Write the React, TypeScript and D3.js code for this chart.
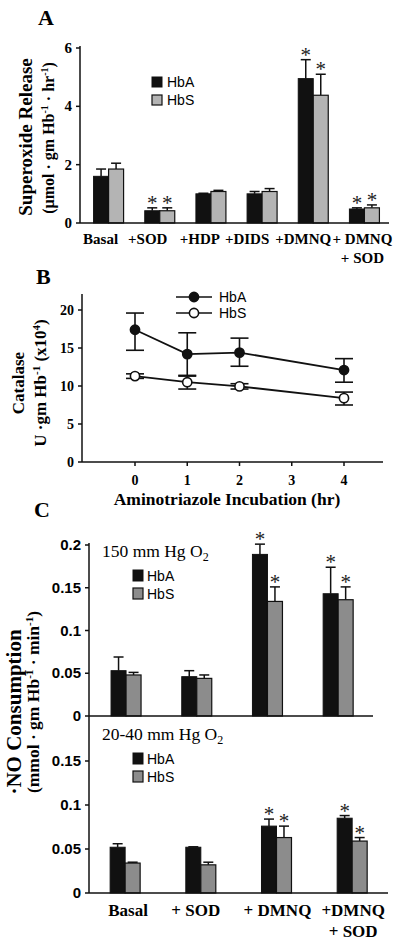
import React from "react";
import * as d3 from "d3";

// ---------- Panel A data ----------
const catsA = ["Basal", "+SOD", "+HDP", "+DIDS", "+DMNQ", "+ DMNQ|+ SOD"];
const hbaA = [1.6, 0.42, 1.0, 1.0, 4.95, 0.48];
const hbaAErr = [1.85, 0.52, 1.02, 1.08, 5.6, 0.52];
const hbsA = [1.85, 0.42, 1.08, 1.08, 4.38, 0.52];
const hbsAErr = [2.05, 0.52, 1.12, 1.18, 5.1, 0.62];
const starA = [false, true, false, false, true, true];
const ticksA = [0, 2, 4, 6];

// ---------- Panel B data ----------
const hoursB = [0, 1, 2, 4];
const hbaB = [17.4, 14.2, 14.4, 12.1];
const hbaBLo = [14.7, 11.4, 12.6, 10.5];
const hbaBHi = [19.6, 17.0, 16.3, 13.6];
const hbsB = [11.3, 10.5, 9.95, 8.4];
const hbsBLo = [11.0, 9.6, 9.6, 7.5];
const hbsBHi = [11.6, 11.3, 10.3, 9.2];
const ticksBx = [0, 1, 2, 3, 4];
const ticksBy = [0, 5, 10, 15, 20];

// ---------- Panel C data ----------
const catsC = ["Basal", "+ SOD", "+ DMNQ", "+DMNQ|+ SOD"];
const hbaC150 = [0.053, 0.046, 0.189, 0.143];
const hbaC150Err = [0.069, 0.053, 0.201, 0.174];
const hbsC150 = [0.048, 0.044, 0.134, 0.136];
const hbsC150Err = [0.051, 0.048, 0.151, 0.151];
const hbaC40 = [0.052, 0.052, 0.076, 0.085];
const hbaC40Err = [0.056, 0.0525, 0.084, 0.088];
const hbsC40 = [0.034, 0.032, 0.063, 0.059];
const hbsC40Err = [0.035, 0.035, 0.076, 0.063];
const starC = [false, false, true, true];
const ticksC1 = [0, 0.05, 0.1, 0.15, 0.2];
const ticksC2 = [0, 0.05, 0.1, 0.15];

const SERIF = "'Liberation Serif', 'Times New Roman', serif";
const SANS = "'Liberation Sans', Arial, sans-serif";
const BLACK = "#111";
const GRAY_A = "#b4b4b4";
const GRAY_C = "#8c8c8c";

function ErrBar({ x, y0, y1, cap, sw = 1.5 }: any) {
  return (
    <g stroke={BLACK} strokeWidth={sw}>
      <line x1={x} x2={x} y1={y0} y2={y1} />
      <line x1={x - cap / 2} x2={x + cap / 2} y1={y1} y2={y1} />
    </g>
  );
}

function Star({ x, y, size = 21 }: any) {
  return (
    <text x={x} y={y + 2} textAnchor="middle" fontFamily={SERIF} fontSize={size} style={{ fill: "#222" }}>
      *
    </text>
  );
}

function PanelA() {
  const y = d3.scaleLinear().domain([0, 6]).range([223, 48]);
  const x = d3.scaleBand().domain(catsA).range([83, 390]);
  const bw = 15;
  const labelOff = [-8, -12, -11, -15, -10, -2];
  return (
    <g>
      <text x={38} y={25} fontFamily={SERIF} fontWeight="bold" fontSize={22}>A</text>
      {catsA.map((c, i) => {
        const cx = (x(c) as number) + x.bandwidth() / 2;
        return (
          <g key={c}>
            <ErrBar x={cx - bw / 2} y0={y(hbaA[i])} y1={y(hbaAErr[i])} cap={10} />
            <ErrBar x={cx + bw / 2} y0={y(hbsA[i])} y1={y(hbsAErr[i])} cap={10} />
            <rect x={cx - bw} y={y(hbaA[i])} width={bw} height={y(0) - y(hbaA[i])} fill={BLACK} stroke={BLACK} strokeWidth={1} />
            <rect x={cx} y={y(hbsA[i])} width={bw} height={y(0) - y(hbsA[i])} fill={GRAY_A} stroke={BLACK} strokeWidth={1.2} />
            {starA[i] && <Star x={cx - bw / 2} y={y(hbaAErr[i])} />}
            {starA[i] && <Star x={cx + bw / 2} y={y(hbsAErr[i])} />}
            {c.split("|").map((t, k) => (
              <text key={k} x={cx + labelOff[i]} y={244 + k * 19} textAnchor="middle" fontFamily={SERIF} fontWeight="bold" fontSize={15}>
                {t}
              </text>
            ))}
          </g>
        );
      })}
      <line x1={80} x2={80} y1={y(0)} y2={46} stroke={BLACK} strokeWidth={1.5} />
      <line x1={80} x2={389} y1={y(0)} y2={y(0)} stroke={BLACK} strokeWidth={1.5} />
      {ticksA.map((t) => (
        <g key={t}>
          <line x1={76} x2={80} y1={y(t)} y2={y(t)} stroke={BLACK} strokeWidth={1.5} />
          <text x={72} y={y(t) + 5} textAnchor="end" fontFamily={SERIF} fontWeight="bold" fontSize={15}>{t}</text>
        </g>
      ))}
      <text transform={`translate(32,137) rotate(-90)`} textAnchor="middle" fontFamily={SERIF} fontWeight="bold" fontSize={19}>
        Superoxide Release
      </text>
      <text transform={`translate(54,138) rotate(-90)`} textAnchor="middle" fontFamily={SERIF} fontWeight="bold" fontSize={16}>
        (µmol · gm Hb<tspan dy={-6} fontSize={10}>-1</tspan><tspan dy={6}> · hr</tspan><tspan dy={-6} fontSize={10}>-1</tspan><tspan dy={6}>)</tspan>
      </text>
      <rect x={152} y={77} width={10} height={10} fill={BLACK} stroke={BLACK} />
      <rect x={152} y={95} width={10} height={10} fill={GRAY_A} stroke={BLACK} strokeWidth={1.2} />
      <text x={167} y={87} fontFamily={SANS} fontSize={14}>HbA</text>
      <text x={167} y={105} fontFamily={SANS} fontSize={14}>HbS</text>
    </g>
  );
}

function PanelB() {
  const x = d3.scaleLinear().domain([0, 4]).range([135, 344]);
  const y = d3.scaleLinear().domain([0, 20]).range([462, 310]);
  const line = d3.line<number>().x((_, i) => x(hoursB[i])).y((d) => y(d));
  return (
    <g>
      <text x={36} y={284} fontFamily={SERIF} fontWeight="bold" fontSize={22}>B</text>
      <line x1={82} x2={82} y1={y(0)} y2={294} stroke={BLACK} strokeWidth={1.5} />
      <line x1={82} x2={383} y1={y(0)} y2={y(0)} stroke={BLACK} strokeWidth={1.5} />
      {ticksBy.map((t) => (
        <g key={t}>
          <line x1={78} x2={82} y1={y(t)} y2={y(t)} stroke={BLACK} strokeWidth={1.5} />
          <text x={74} y={y(t) + 5} textAnchor="end" fontFamily={SERIF} fontWeight="bold" fontSize={14}>{t}</text>
        </g>
      ))}
      {ticksBx.map((t) => (
        <g key={t}>
          <line x1={x(t)} x2={x(t)} y1={y(0)} y2={y(0) + 4} stroke={BLACK} strokeWidth={1.5} />
          <text x={x(t)} y={485} textAnchor="middle" fontFamily={SERIF} fontWeight="bold" fontSize={14}>{t}</text>
        </g>
      ))}
      <text x={227} y={505} textAnchor="middle" fontFamily={SERIF} fontWeight="bold" fontSize={17.5}>
        Aminotriazole Incubation (hr)
      </text>
      <path d={line(hbaB) as string} fill="none" stroke={BLACK} strokeWidth={1.8} />
      <path d={line(hbsB) as string} fill="none" stroke={BLACK} strokeWidth={1.8} />
      {hoursB.map((h, i) => (
        <g key={h} stroke={BLACK} strokeWidth={1.6}>
          <line x1={x(h)} x2={x(h)} y1={y(hbaBLo[i])} y2={y(hbaBHi[i])} />
          <line x1={x(h) - 9} x2={x(h) + 9} y1={y(hbaBLo[i])} y2={y(hbaBLo[i])} />
          <line x1={x(h) - 9} x2={x(h) + 9} y1={y(hbaBHi[i])} y2={y(hbaBHi[i])} />
          <line x1={x(h)} x2={x(h)} y1={y(hbsBLo[i])} y2={y(hbsBHi[i])} />
          <line x1={x(h) - 9} x2={x(h) + 9} y1={y(hbsBLo[i])} y2={y(hbsBLo[i])} />
          <line x1={x(h) - 9} x2={x(h) + 9} y1={y(hbsBHi[i])} y2={y(hbsBHi[i])} />
          <circle cx={x(h)} cy={y(hbaB[i])} r={4.6} fill={BLACK} />
          <circle cx={x(h)} cy={y(hbsB[i])} r={4.6} fill="#fff" />
        </g>
      ))}
      <g stroke={BLACK} strokeWidth={1.6}>
        <line x1={176} x2={212} y1={297} y2={297} />
        <circle cx={194} cy={297} r={4.6} fill={BLACK} />
        <line x1={176} x2={212} y1={313} y2={313} />
        <circle cx={194} cy={313} r={4.6} fill="#fff" />
      </g>
      <text x={219} y={302} fontFamily={SANS} fontSize={14}>HbA</text>
      <text x={219} y={318} fontFamily={SANS} fontSize={14}>HbS</text>
      <text transform={`translate(24,383) rotate(-90)`} textAnchor="middle" fontFamily={SERIF} fontWeight="bold" fontSize={17}>
        Catalase
      </text>
      <text transform={`translate(46,383) rotate(-90)`} textAnchor="middle" fontFamily={SERIF} fontWeight="bold" fontSize={17}>
        U ·gm Hb<tspan dy={-6} fontSize={11}>-1</tspan><tspan dy={6}> (x10</tspan><tspan dy={-6} fontSize={11}>4</tspan><tspan dy={6}>)</tspan>
      </text>
    </g>
  );
}

function BarsC({ x, y, hba, hbaErr, hbs, hbsErr }: any) {
  const bw = 15;
  return (
    <g>
      {catsC.map((c, i) => {
        const cx = (x(c) as number) + x.bandwidth() / 2;
        return (
          <g key={c}>
            <ErrBar x={cx - bw / 2} y0={y(hba[i])} y1={y(hbaErr[i])} cap={10} />
            <ErrBar x={cx + bw / 2} y0={y(hbs[i])} y1={y(hbsErr[i])} cap={10} />
            <rect x={cx - bw} y={y(hba[i])} width={bw} height={y(0) - y(hba[i])} fill={BLACK} stroke={BLACK} strokeWidth={1} />
            <rect x={cx} y={y(hbs[i])} width={bw} height={y(0) - y(hbs[i])} fill={GRAY_C} stroke={BLACK} strokeWidth={1.2} />
            {starC[i] && <Star x={cx - bw / 2} y={y(hbaErr[i])} />}
            {starC[i] && <Star x={cx + bw / 2} y={y(hbsErr[i])} />}
          </g>
        );
      })}
    </g>
  );
}

function LegendC({ y0, title }: any) {
  return (
    <g>
      <text x={102} y={y0} fontFamily={SERIF} fontSize={17.5}>
        {title}<tspan dy={4} fontSize={12}>2</tspan>
      </text>
      <rect x={133} y={y0 + 13} width={10} height={11} fill={BLACK} stroke={BLACK} />
      <rect x={133} y={y0 + 31} width={10} height={11} fill={GRAY_C} stroke={BLACK} strokeWidth={1.2} />
      <text x={147} y={y0 + 24} fontFamily={SANS} fontSize={14}>HbA</text>
      <text x={147} y={y0 + 42} fontFamily={SANS} fontSize={14}>HbS</text>
    </g>
  );
}

function PanelC() {
  const y1 = d3.scaleLinear().domain([0, 0.2]).range([716, 545]);
  const y2 = d3.scaleLinear().domain([0, 0.2]).range([893, 717]);
  const x1 = d3.scaleBand().domain(catsC).range([90.7, 373.5]);
  const x2 = d3.scaleBand().domain(catsC).range([87.3, 390]);
  const labelOff = [3, -5, 1, 1];
  return (
    <g>
      <text x={34} y={517} fontFamily={SERIF} fontWeight="bold" fontSize={22}>C</text>
      <BarsC x={x1} y={y1} hba={hbaC150} hbaErr={hbaC150Err} hbs={hbsC150} hbsErr={hbsC150Err} />
      <BarsC x={x2} y={y2} hba={hbaC40} hbaErr={hbaC40Err} hbs={hbsC40} hbsErr={hbsC40Err} />
      <line x1={89} x2={89} y1={y2(0)} y2={543} stroke={BLACK} strokeWidth={1.5} />
      <line x1={89} x2={373} y1={y1(0)} y2={y1(0)} stroke={BLACK} strokeWidth={1.5} />
      <line x1={89} x2={388} y1={y2(0)} y2={y2(0)} stroke={BLACK} strokeWidth={1.5} />
      {ticksC1.map((t) => (
        <g key={"u" + t}>
          <line x1={85} x2={89} y1={y1(t)} y2={y1(t)} stroke={BLACK} strokeWidth={1.5} />
          <text x={81} y={y1(t) + 5} textAnchor="end" fontFamily={SANS} fontWeight="bold" fontSize={15}>{String(t)}</text>
        </g>
      ))}
      {ticksC2.map((t) => (
        <g key={"l" + t}>
          <line x1={85} x2={89} y1={y2(t)} y2={y2(t)} stroke={BLACK} strokeWidth={1.5} />
          <text x={81} y={y2(t) + 5} textAnchor="end" fontFamily={SANS} fontWeight="bold" fontSize={15}>{String(t)}</text>
        </g>
      ))}
      {catsC.map((c, i) => {
        const cx = (x2(c) as number) + x2.bandwidth() / 2 + labelOff[i];
        return c.split("|").map((t, k) => (
          <text key={c + k} x={cx} y={916 + k * 21} textAnchor="middle" fontFamily={SERIF} fontWeight="bold" fontSize={17}>
            {t}
          </text>
        ));
      })}
      <LegendC y0={557} title="150 mm Hg O" />
      <LegendC y0={740} title="20-40 mm Hg O" />
      <text transform={`translate(21,712) rotate(-90)`} textAnchor="middle" fontFamily={SERIF} fontWeight="bold" fontSize={21}>
        ·NO Consumption
      </text>
      <text transform={`translate(39,702) rotate(-90)`} textAnchor="middle" fontFamily={SERIF} fontWeight="bold" fontSize={17.5}>
        (mmol · gm Hb<tspan dy={-6} fontSize={11}>-1</tspan><tspan dy={6}> · min</tspan><tspan dy={-6} fontSize={11}>-1</tspan><tspan dy={6}>)</tspan>
      </text>
    </g>
  );
}

export default function App() {
  return (
    <div style={{ position: "absolute", left: 0, top: 0 }}>
      <svg width={400} height={942} style={{ display: "block", background: "#fff" }}>
        <rect width={400} height={942} fill="#fff" />
        <PanelA />
        <PanelB />
        <PanelC />
      </svg>
    </div>
  );
}
